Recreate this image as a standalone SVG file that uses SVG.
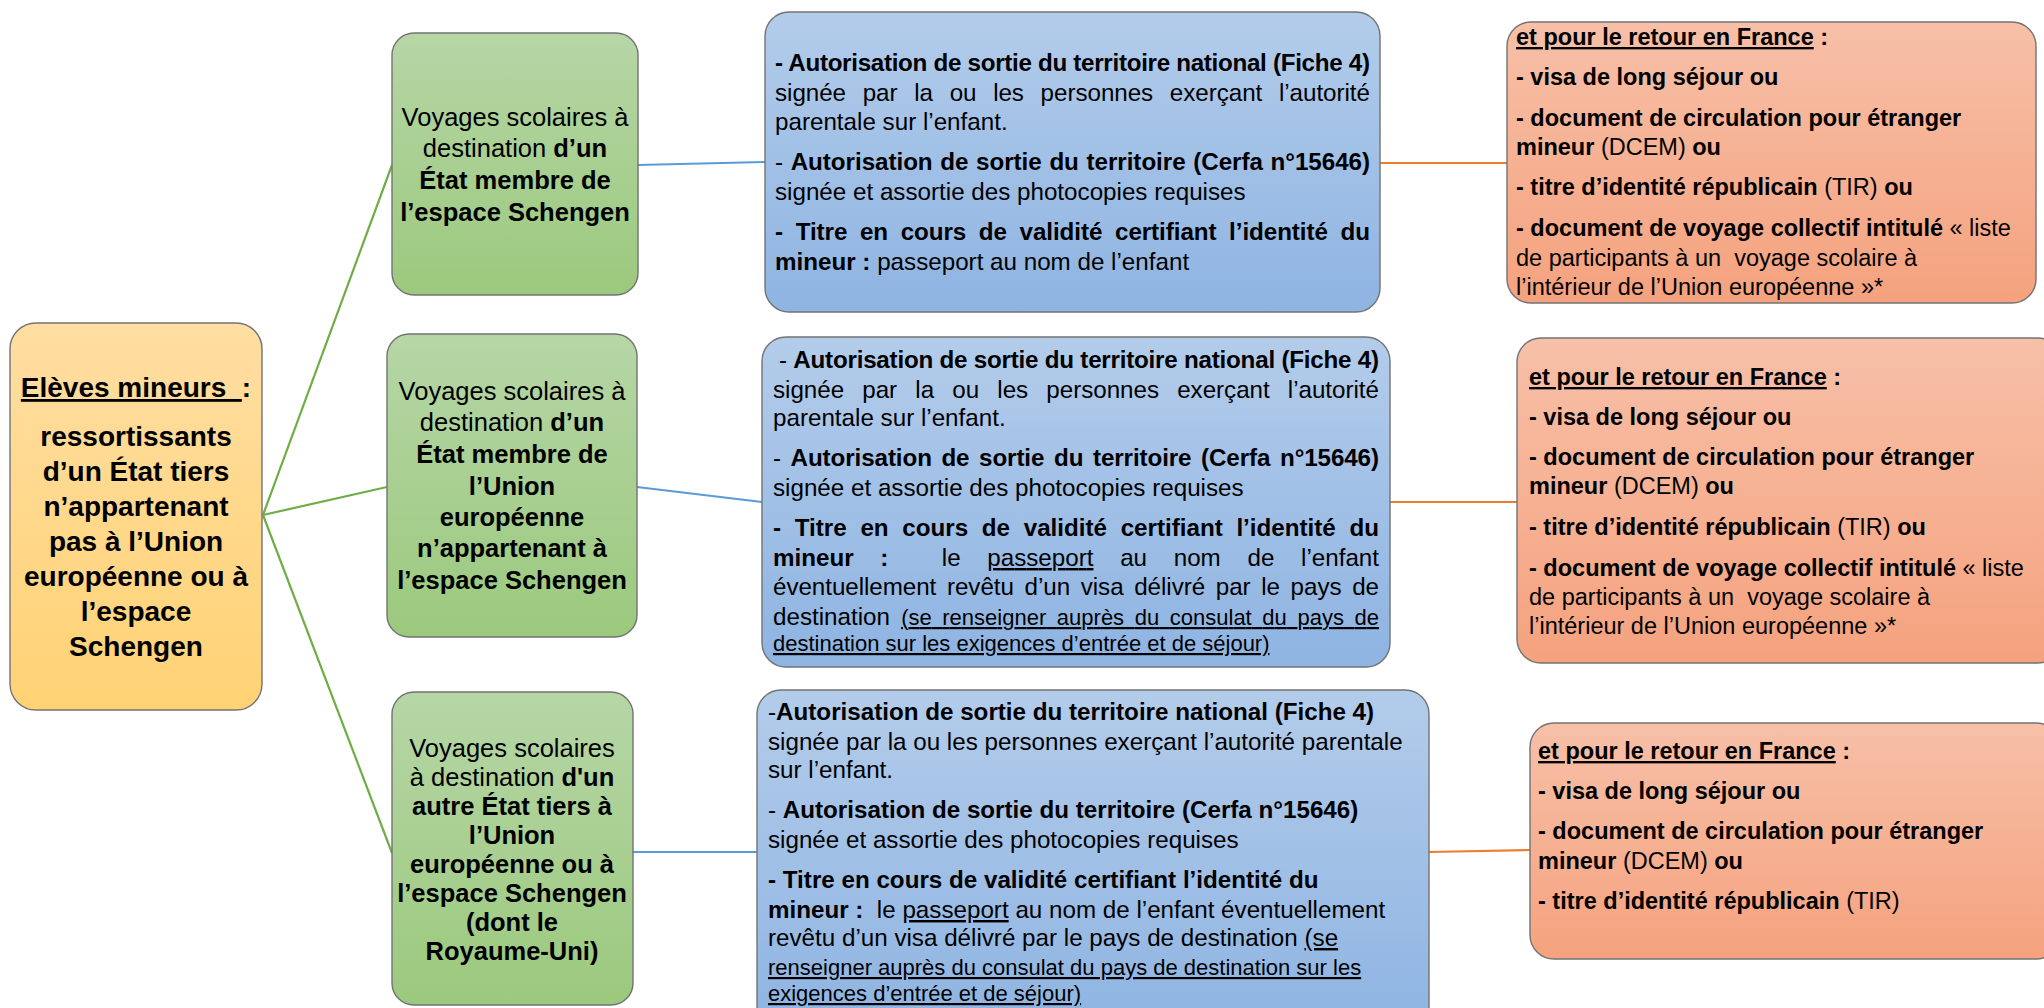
<svg xmlns="http://www.w3.org/2000/svg" width="2044" height="1008" viewBox="0 0 2044 1008">
<defs>
<linearGradient id="gGold" x1="0" y1="0" x2="0" y2="1"><stop offset="0" stop-color="#FFDEA2"/><stop offset="1" stop-color="#FFD274"/></linearGradient>
<linearGradient id="gGreen" x1="0" y1="0" x2="0" y2="1"><stop offset="0" stop-color="#B6D6A6"/><stop offset="1" stop-color="#9BC97D"/></linearGradient>
<linearGradient id="gBlue" x1="0" y1="0" x2="0" y2="1"><stop offset="0" stop-color="#B3CCEA"/><stop offset="1" stop-color="#8EB4E2"/></linearGradient>
<linearGradient id="gOrange" x1="0" y1="0" x2="0" y2="1"><stop offset="0" stop-color="#F7C0A8"/><stop offset="1" stop-color="#F5A27E"/></linearGradient>
<style>
text{font-family:"Liberation Sans",Arial,sans-serif;fill:#000;}
.box{stroke:#737373;stroke-width:1.4;}
.gold{fill:url(#gGold);}
.green{fill:url(#gGreen);}
.blue{fill:url(#gBlue);}
.orange{fill:url(#gOrange);}
.tl{font-size:28px;font-weight:bold;text-anchor:middle;}
.tg{font-size:25.5px;text-anchor:middle;}
.tb{font-size:24.2px;}
.to{font-size:23.5px;}
.b{font-weight:bold;}
.u{text-decoration:underline;}
.sm{font-size:22px;}
.cg{stroke:#70AD47;stroke-width:2.2;fill:none;}
.cb{stroke:#5B9BD5;stroke-width:2.2;fill:none;}
.co{stroke:#ED7D31;stroke-width:2.2;fill:none;}
</style>
</defs>
<rect width="2044" height="1008" fill="#FFFFFF"/>
<g id="connectors">
<path class="cg" d="M263,515 L392,165"/>
<path class="cg" d="M263,515 L387,487"/>
<path class="cg" d="M263,515 L392,853"/>
<path class="cb" d="M638,165 L765,162"/>
<path class="cb" d="M637,487 L762,502"/>
<path class="cb" d="M633,852 L757,852"/>
<path class="co" d="M1380,163 L1507,163"/>
<path class="co" d="M1390,502 L1517,502"/>
<path class="co" d="M1429,852 L1530,850"/>
</g>
<g id="eleves">
<rect class="box gold" x="10" y="323" width="252" height="387" rx="26"/>
<text class="tl" x="136" y="397" xml:space="preserve"><tspan class="u">Elèves mineurs  </tspan>:</text>
<text class="tl" x="136" y="446">ressortissants</text>
<text class="tl" x="136" y="481">d’un État tiers</text>
<text class="tl" x="136" y="516">n’appartenant</text>
<text class="tl" x="136" y="551">pas à l’Union</text>
<text class="tl" x="136" y="586">européenne ou à</text>
<text class="tl" x="136" y="621">l’espace</text>
<text class="tl" x="136" y="656">Schengen</text>
</g>
<g id="voyage-schengen">
<rect class="box green" x="392" y="33" width="246" height="262" rx="22"/>
<text class="tg" x="515" y="126">Voyages scolaires à</text>
<text class="tg" x="515" y="157">destination <tspan class="b">d’un</tspan></text>
<text class="tg b" x="515" y="189">État membre de</text>
<text class="tg b" x="515" y="221">l’espace Schengen</text>
</g>
<g id="voyage-ue">
<rect class="box green" x="387" y="334" width="250" height="303" rx="22"/>
<text class="tg" x="512" y="400">Voyages scolaires à</text>
<text class="tg" x="512" y="431">destination <tspan class="b">d’un</tspan></text>
<text class="tg b" x="512" y="463">État membre de</text>
<text class="tg b" x="512" y="495">l’Union</text>
<text class="tg b" x="512" y="526">européenne</text>
<text class="tg b" x="512" y="557">n’appartenant à</text>
<text class="tg b" x="512" y="589">l’espace Schengen</text>
</g>
<g id="voyage-tiers">
<rect class="box green" x="392" y="692" width="241" height="313" rx="22"/>
<text class="tg" x="512" y="757">Voyages scolaires</text>
<text class="tg" x="512" y="786">à destination <tspan class="b">d'un</tspan></text>
<text class="tg b" x="512" y="815">autre État tiers à</text>
<text class="tg b" x="512" y="844">l’Union</text>
<text class="tg b" x="512" y="873">européenne ou à</text>
<text class="tg b" x="512" y="902">l’espace Schengen</text>
<text class="tg b" x="512" y="931">(dont le</text>
<text class="tg b" x="512" y="960">Royaume-Uni)</text>
</g>
<g id="docs-schengen">
<rect class="box blue" x="765" y="12" width="615" height="300" rx="24"/>
<text class="tb b" x="775" y="71" textLength="595" lengthAdjust="spacing">- Autorisation de sortie du territoire national (Fiche 4)</text>
<text class="tb" x="775" y="101" word-spacing="10" textLength="595" lengthAdjust="spacing">signée par la ou les personnes exerçant l’autorité</text>
<text class="tb" x="775" y="130">parentale sur l’enfant.</text>
<text class="tb" x="775" y="170" word-spacing="1" textLength="595" lengthAdjust="spacing">- <tspan class="b">Autorisation de sortie du territoire (Cerfa n°15646)</tspan></text>
<text class="tb" x="775" y="200">signée et assortie des photocopies requises</text>
<text class="tb b" x="775" y="240" word-spacing="6" textLength="595" lengthAdjust="spacing">- Titre en cours de validité certifiant l’identité du</text>
<text class="tb" x="775" y="270"><tspan class="b">mineur :</tspan> passeport au nom de l’enfant</text>
</g>
<g id="docs-ue">
<rect class="box blue" x="762" y="337" width="628" height="330" rx="24"/>
<text class="tb" x="779" y="368" textLength="600" lengthAdjust="spacing">- <tspan class="b">Autorisation de sortie du territoire national (Fiche 4)</tspan></text>
<text class="tb" x="773" y="398" word-spacing="11.5" textLength="606" lengthAdjust="spacing">signée par la ou les personnes exerçant l’autorité</text>
<text class="tb" x="773" y="426">parentale sur l’enfant.</text>
<text class="tb" x="773" y="466" word-spacing="3" textLength="606" lengthAdjust="spacing">- <tspan class="b">Autorisation de sortie du territoire (Cerfa n°15646)</tspan></text>
<text class="tb" x="773" y="496">signée et assortie des photocopies requises</text>
<text class="tb b" x="773" y="536" word-spacing="7" textLength="606" lengthAdjust="spacing">- Titre en cours de validité certifiant l’identité du</text>
<text class="tb" x="773" y="566" word-spacing="20" textLength="606" lengthAdjust="spacing" xml:space="preserve"><tspan class="b">mineur :</tspan>  le <tspan class="u">passeport</tspan> au nom de l’enfant</text>
<text class="tb" x="773" y="595" word-spacing="4" textLength="606" lengthAdjust="spacing">éventuellement revêtu d’un visa délivré par le pays de</text>
<text class="tb" x="773" y="625" word-spacing="4.5" textLength="606" lengthAdjust="spacing">destination <tspan class="u sm">(se renseigner auprès du consulat du pays de</tspan></text>
<text class="tb sm u" x="773" y="651">destination sur les exigences d’entrée et de séjour)</text>
</g>
<g id="docs-tiers">
<rect class="box blue" x="757" y="690" width="672" height="340" rx="24"/>
<text class="tb" x="768" y="720">-<tspan class="b">Autorisation de sortie du territoire national (Fiche 4)</tspan></text>
<text class="tb" x="768" y="750">signée par la ou les personnes exerçant l’autorité parentale</text>
<text class="tb" x="768" y="778">sur l’enfant.</text>
<text class="tb" x="768" y="818">- <tspan class="b">Autorisation de sortie du territoire (Cerfa n°15646)</tspan></text>
<text class="tb" x="768" y="848">signée et assortie des photocopies requises</text>
<text class="tb b" x="768" y="888">- Titre en cours de validité certifiant l’identité du</text>
<text class="tb" x="768" y="918" xml:space="preserve"><tspan class="b">mineur :</tspan>  le <tspan class="u">passeport</tspan> au nom de l’enfant éventuellement</text>
<text class="tb" x="768" y="946">revêtu d’un visa délivré par le pays de destination <tspan class="u">(se</tspan></text>
<text class="tb sm u" x="768" y="975">renseigner auprès du consulat du pays de destination sur les</text>
<text class="tb sm u" x="768" y="1001">exigences d’entrée et de séjour)</text>
</g>
<g id="retour-schengen">
<rect class="box orange" x="1507" y="22" width="529" height="281" rx="24"/>
<text class="to b" x="1516" y="45"><tspan class="u">et pour le retour en France</tspan> :</text>
<text class="to b" x="1516" y="85">- visa de long séjour ou</text>
<text class="to b" x="1516" y="126">- document de circulation pour étranger</text>
<text class="to" x="1516" y="155"><tspan class="b">mineur</tspan> (DCEM) <tspan class="b">ou</tspan></text>
<text class="to" x="1516" y="195"><tspan class="b">- titre d’identité républicain</tspan> (TIR) <tspan class="b">ou</tspan></text>
<text class="to" x="1516" y="236"><tspan class="b">- document de voyage collectif intitulé</tspan> « liste</text>
<text class="to" x="1516" y="266" xml:space="preserve">de participants à un  voyage scolaire à</text>
<text class="to" x="1516" y="295">l’intérieur de l’Union européenne »*</text>
</g>
<g id="retour-ue">
<rect class="box orange" x="1517" y="338" width="545" height="325" rx="24"/>
<text class="to b" x="1529" y="385"><tspan class="u">et pour le retour en France</tspan> :</text>
<text class="to b" x="1529" y="425">- visa de long séjour ou</text>
<text class="to b" x="1529" y="465">- document de circulation pour étranger</text>
<text class="to" x="1529" y="494"><tspan class="b">mineur</tspan> (DCEM) <tspan class="b">ou</tspan></text>
<text class="to" x="1529" y="535"><tspan class="b">- titre d’identité républicain</tspan> (TIR) <tspan class="b">ou</tspan></text>
<text class="to" x="1529" y="576"><tspan class="b">- document de voyage collectif intitulé</tspan> « liste</text>
<text class="to" x="1529" y="605" xml:space="preserve">de participants à un  voyage scolaire à</text>
<text class="to" x="1529" y="634">l’intérieur de l’Union européenne »*</text>
</g>
<g id="retour-tiers">
<rect class="box orange" x="1530" y="723" width="530" height="236" rx="24"/>
<text class="to b" x="1538" y="759"><tspan class="u">et pour le retour en France</tspan> :</text>
<text class="to b" x="1538" y="799">- visa de long séjour ou</text>
<text class="to b" x="1538" y="839">- document de circulation pour étranger</text>
<text class="to" x="1538" y="869"><tspan class="b">mineur</tspan> (DCEM) <tspan class="b">ou</tspan></text>
<text class="to" x="1538" y="909"><tspan class="b">- titre d’identité républicain</tspan> (TIR)</text>
</g>
</svg>
